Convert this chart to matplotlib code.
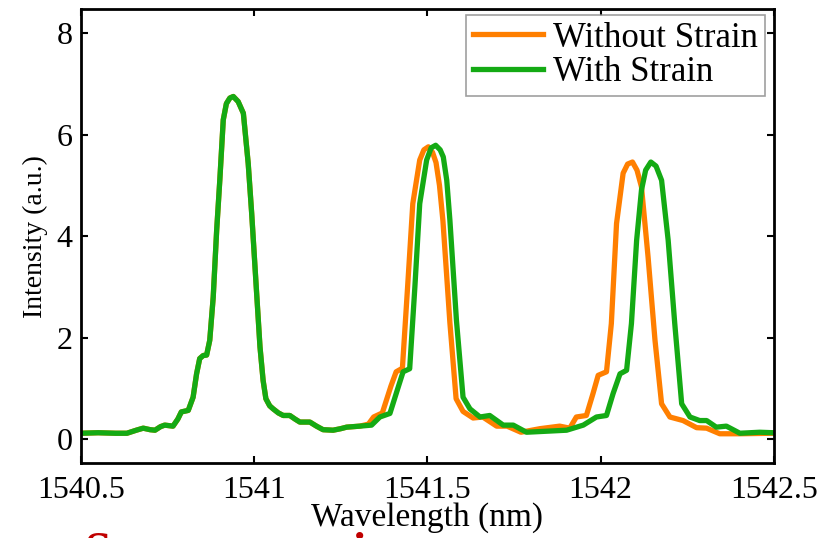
import matplotlib
matplotlib.use('Agg')
import matplotlib.pyplot as plt

plt.rcParams['font.family'] = ['Liberation Serif', 'DejaVu Serif']

# spectrum up to the second peak is the same for both measurements
shared_wl = [1540.50, 1540.55, 1540.60, 1540.633, 1540.66, 1540.68, 1540.70, 1540.714,
             1540.73, 1540.742, 1540.766, 1540.78, 1540.79, 1540.81, 1540.824, 1540.834,
             1540.843, 1540.853, 1540.863, 1540.872, 1540.882, 1540.892, 1540.901, 1540.911,
             1540.92, 1540.93, 1540.94, 1540.954, 1540.969, 1540.983, 1540.993, 1541.005,
             1541.017, 1541.026, 1541.034, 1541.045, 1541.055, 1541.07, 1541.084, 1541.103,
             1541.118, 1541.132, 1541.161, 1541.18, 1541.199, 1541.228, 1541.25, 1541.267]
shared_int = [0.12, 0.13, 0.12, 0.12, 0.18, 0.22, 0.19, 0.18,
              0.25, 0.28, 0.26, 0.40, 0.54, 0.57, 0.83, 1.29,
              1.59, 1.65, 1.66, 1.95, 2.80, 4.12, 5.10, 6.29,
              6.61, 6.72, 6.75, 6.65, 6.42, 5.43, 4.45, 3.13,
              1.82, 1.16, 0.80, 0.66, 0.60, 0.52, 0.47, 0.47,
              0.40, 0.34, 0.34, 0.26, 0.19, 0.18, 0.21, 0.24]

no_strain_wl = [1541.305, 1541.33, 1541.345, 1541.37, 1541.395, 1541.41, 1541.428, 1541.443,
                1541.458, 1541.478, 1541.49, 1541.503, 1541.515, 1541.525, 1541.535, 1541.545,
                1541.565, 1541.583, 1541.603, 1541.632, 1541.66, 1541.70, 1541.73, 1541.77,
                1541.825, 1541.882, 1541.911, 1541.93, 1541.959, 1541.978, 1541.993, 1542.017,
                1542.031, 1542.046, 1542.065, 1542.078, 1542.092, 1542.105, 1542.118, 1542.137,
                1542.157, 1542.176, 1542.20, 1542.238, 1542.277, 1542.306, 1542.344, 1542.402,
                1542.50]
no_strain_int = [0.26, 0.30, 0.44, 0.52, 1.05, 1.33, 1.40, 3.00,
                 4.64, 5.50, 5.70, 5.76, 5.65, 5.45, 5.00, 4.30,
                 2.30, 0.80, 0.55, 0.42, 0.44, 0.26, 0.26, 0.14,
                 0.21, 0.26, 0.22, 0.44, 0.47, 0.90, 1.26, 1.33,
                 2.28, 4.25, 5.24, 5.42, 5.46, 5.30, 4.97, 3.59,
                 1.95, 0.70, 0.44, 0.37, 0.23, 0.22, 0.11, 0.11,
                 0.12]

strain_wl = [1541.305, 1541.339, 1541.363, 1541.392, 1541.416, 1541.43, 1541.449, 1541.464,
             1541.478, 1541.498, 1541.511, 1541.524, 1541.537, 1541.546, 1541.556, 1541.565,
             1541.584, 1541.603, 1541.623, 1541.652, 1541.68, 1541.719, 1541.748, 1541.786,
             1541.844, 1541.902, 1541.95, 1541.988, 1542.017, 1542.036, 1542.056, 1542.075,
             1542.089, 1542.104, 1542.118, 1542.13, 1542.145, 1542.16, 1542.176, 1542.195,
             1542.214, 1542.234, 1542.258, 1542.286, 1542.306, 1542.334, 1542.363, 1542.402,
             1542.459, 1542.50]
strain_int = [0.26, 0.28, 0.44, 0.51, 1.03, 1.33, 1.39, 3.00,
              4.64, 5.50, 5.74, 5.79, 5.70, 5.56, 5.10, 4.32,
              2.34, 0.83, 0.60, 0.44, 0.47, 0.28, 0.28, 0.14,
              0.16, 0.18, 0.28, 0.44, 0.47, 0.90, 1.29, 1.36,
              2.28, 3.92, 4.91, 5.30, 5.46, 5.38, 5.10, 3.92,
              2.28, 0.70, 0.44, 0.37, 0.37, 0.24, 0.26, 0.12,
              0.14, 0.13]

x_ticks = [1540.5, 1541, 1541.5, 1542, 1542.5]
x_tick_labels = ['1540.5', '1541', '1541.5', '1542', '1542.5']
y_ticks = [0, 2, 4, 6, 8]

orange = '#FF7F00'
green = '#14AA14'

fig = plt.figure(figsize=(8.25, 5.38), dpi=100)
ax = fig.add_axes([0.098, 0.139, 0.840, 0.844])

ax.plot(shared_wl + no_strain_wl, shared_int + no_strain_int, color=orange, lw=3.8,
        label='Without Strain', solid_joinstyle='round')
ax.plot(shared_wl + strain_wl, shared_int + strain_int, color=green, lw=3.8,
        label='With Strain', solid_joinstyle='round')

ax.set_xlim(1540.5, 1542.5)
ax.set_ylim(-0.47, 8.47)
ax.set_xticks(x_ticks)
ax.set_xticklabels(x_tick_labels)
ax.set_yticks(y_ticks)
ax.tick_params(direction='in', length=5, width=1.5, top=True, right=True,
               labelsize=23)
ax.tick_params(axis='x', pad=9)
ax.tick_params(axis='y', pad=6)
for side in ax.spines.values():
    side.set_linewidth(2)

ax.set_xlabel('Wavelength (nm)', fontsize=24, labelpad=-2)
ax.set_ylabel('Intensity (a.u.)', fontsize=20, labelpad=6)

leg = ax.legend(loc='upper right', fontsize=25, handlelength=2.0, handletextpad=0.3,
                borderpad=0.2, labelspacing=0.05, fancybox=False,
                bbox_to_anchor=(0.987, 0.988), borderaxespad=0)
leg.get_frame().set_edgecolor('#888888')
leg.get_frame().set_linewidth(1.2)

# red caption running off the bottom edge
fig.text(0.102, 0.012, 'S', color='#C00000', fontsize=34, fontweight='bold',
         ha='left', va='top')
fig.text(0.428, 0.012, 'i', color='#C00000', fontsize=34, fontweight='bold',
         ha='left', va='top')

fig.savefig('out.png', dpi=100)
